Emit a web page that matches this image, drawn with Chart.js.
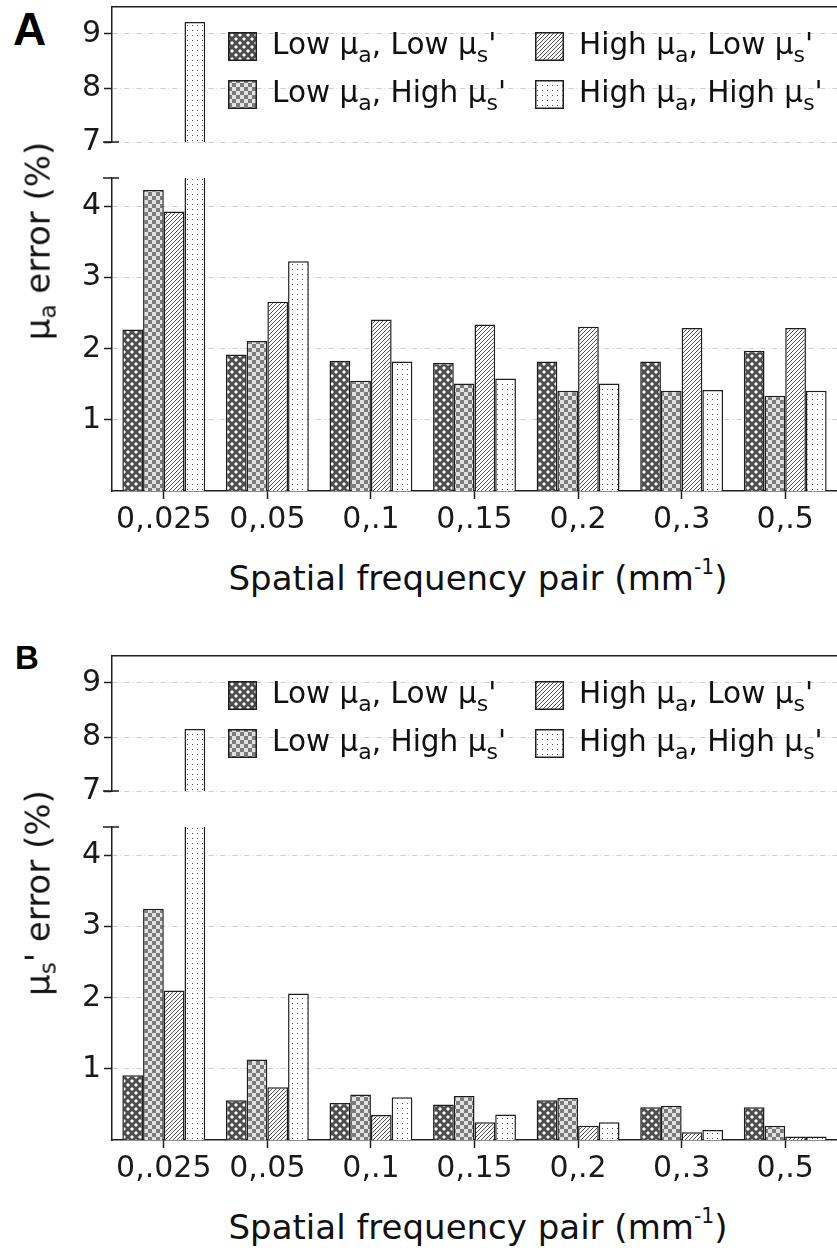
<!DOCTYPE html>
<html>
<head>
<meta charset="utf-8">
<script src="https://cdn.jsdelivr.net/npm/chart.js@4.4.1/dist/chart.umd.min.js"></script>
<style>
  body { margin: 0; background: #fff; }
  #page { position: relative; width: 837px; height: 1250px; overflow: hidden;
          font-family: "DejaVu Sans", sans-serif; color: #111; }
  .box { position: absolute; left: 0; width: 837px; }
  .panel-label { position: absolute; font-family: "Liberation Sans", Arial, sans-serif;
                 font-weight: bold; line-height: 1; color: #000; }
  .ytitle { position: absolute; white-space: nowrap; font-size: 34px; line-height: 1.2;
            transform: translate(-50%, -50%) rotate(-90deg); }
  .xtitle { position: absolute; white-space: nowrap; font-size: 34px; line-height: 1.2;
            transform: translate(-50%, -50%); }
  sub { font-size: 0.68em; vertical-align: -0.28em; line-height: 0; }
  sup { font-size: 0.6em; vertical-align: 0.75em; line-height: 0; }
</style>
</head>
<body>
<div id="page">
  <div class="panel-label" style="left:13px;top:6px;font-size:46px">A</div>
  <div class="box" style="top:3px;height:161px"><canvas id="a-upper"></canvas></div>
  <div class="box" style="top:172px;height:369px"><canvas id="a-lower"></canvas></div>
  <div class="ytitle" style="left:38px;top:241px">μ<sub>a</sub> error (%)</div>
  <div class="xtitle" style="left:478px;top:578px">Spatial frequency pair (mm<sup>-1</sup>)</div>

  <div class="panel-label" style="left:15px;top:641px;font-size:33px">B</div>
  <div class="box" style="top:652px;height:161px"><canvas id="b-upper"></canvas></div>
  <div class="box" style="top:821px;height:369px"><canvas id="b-lower"></canvas></div>
  <div class="ytitle" style="left:38px;top:893px">μ<sub>s</sub>' error (%)</div>
  <div class="xtitle" style="left:478px;top:1227px">Spatial frequency pair (mm<sup>-1</sup>)</div>
</div>

<script>
// ──────────────────────────────────────────────────────────────
// Data
// ──────────────────────────────────────────────────────────────
const CATEGORIES = ["0,.025", "0,.05", "0,.1", "0,.15", "0,.2", "0,.3", "0,.5"];
// "_x" marks a subscript character
const SERIES_LABELS = ["Low μ_a, Low μ_s'", "Low μ_a, High μ_s'", "High μ_a, Low μ_s'", "High μ_a, High μ_s'"];

// panel A: μa error (%)
const A_LOW_LOW   = [2.27, 1.92, 1.83, 1.80, 1.82, 1.82, 1.97];
const A_LOW_HIGH  = [4.23, 2.11, 1.55, 1.51, 1.41, 1.41, 1.34];
const A_HIGH_LOW  = [3.93, 2.66, 2.41, 2.34, 2.31, 2.29, 2.29];
const A_HIGH_HIGH = [9.22, 3.23, 1.82, 1.58, 1.51, 1.42, 1.41];

// panel B: μs' error (%)
const B_LOW_LOW   = [0.91, 0.56, 0.52, 0.50, 0.56, 0.46, 0.46];
const B_LOW_HIGH  = [3.25, 1.13, 0.64, 0.62, 0.59, 0.48, 0.20];
const B_HIGH_LOW  = [2.10, 0.74, 0.35, 0.25, 0.20, 0.11, 0.05];
const B_HIGH_HIGH = [8.15, 2.06, 0.60, 0.36, 0.25, 0.14, 0.05];

// broken y axis: two ranges
const UPPER_MIN = 7, UPPER_MAX = 9.5;
const LOWER_MIN = 0, LOWER_MAX = 4.4;
const UPPER_TICKS = [7, 8, 9];
const LOWER_TICKS = [1, 2, 3, 4];

// ──────────────────────────────────────────────────────────────
// Layout / style
// ──────────────────────────────────────────────────────────────
const AXIS_LEFT = 112;
const INK = "#1e1e1e";
const LEGEND_COL_X = [228, 535];
const LEGEND_ROW_DY = [39.5, 87];
const LEGEND_BOX = 29;

Chart.defaults.font.family = '"DejaVu Sans", sans-serif';
Chart.defaults.font.size = 30;
Chart.defaults.color = "#1a1a1a";
Chart.defaults.animation = false;

// ──────────────────────────────────────────────────────────────
// Fill patterns
// ──────────────────────────────────────────────────────────────
function makePattern(kind) {
  const c = document.createElement("canvas");
  const g = c.getContext("2d");
  if (kind === "diamond") {
    c.width = c.height = 8;
    g.fillStyle = "#4e4e4e";
    g.fillRect(0, 0, 8, 8);
    g.fillStyle = "#fff";
    const dia = (x, y, r) => {
      g.beginPath();
      g.moveTo(x, y - r); g.lineTo(x + r, y); g.lineTo(x, y + r); g.lineTo(x - r, y);
      g.closePath();
      g.fill();
    };
    dia(4, 4, 2);
    [[0, 0], [8, 0], [0, 8], [8, 8]].forEach(([x, y]) => dia(x, y, 2));
  } else if (kind === "checker") {
    c.width = c.height = 8;
    g.fillStyle = "#e2e2e2";
    g.fillRect(0, 0, 8, 8);
    g.fillStyle = "#7c7c7c";
    g.fillRect(0, 0, 4, 4);
    g.fillRect(4, 4, 4, 4);
  } else if (kind === "hatch") {
    c.width = c.height = 4;
    g.fillStyle = "#fff";
    g.fillRect(0, 0, 4, 4);
    g.strokeStyle = "#505050";
    g.lineWidth = 1;
    g.beginPath();
    g.moveTo(-1, 5); g.lineTo(5, -1);
    g.moveTo(-1, 1); g.lineTo(1, -1);
    g.moveTo(3, 5); g.lineTo(5, 3);
    g.stroke();
  } else {
    c.width = 5; c.height = 5;
    g.fillStyle = "#fff";
    g.fillRect(0, 0, 5, 5);
    g.fillStyle = "#555";
    g.fillRect(2, 2, 1, 1);
  }
  return g.createPattern(c, "repeat");
}

const PATTERNS = ["diamond", "checker", "hatch", "dots"].map(makePattern);

// ──────────────────────────────────────────────────────────────
// Plugins: legend with subscripts, axis break caps
// ──────────────────────────────────────────────────────────────
function drawRich(ctx, text, x, y, size) {
  const parts = text.split(/_(.)/);
  parts.forEach((p, i) => {
    if (!p) return;
    const sub = i % 2 === 1;
    ctx.font = `${sub ? Math.round(size * 0.74) : size}px "DejaVu Sans", sans-serif`;
    ctx.fillText(p, x, sub ? y + size * 0.28 : y);
    x += ctx.measureText(p).width;
  });
}

const patternLegend = {
  id: "patternLegend",
  afterDraw(chart, args, opts) {
    if (!opts.show) return;
    const { ctx, chartArea } = chart;
    ctx.save();
    chart.data.datasets.forEach((ds, i) => {
      const bx = LEGEND_COL_X[Math.floor(i / 2)];
      const cy = chartArea.top + LEGEND_ROW_DY[i % 2];
      const top = Math.round(cy - LEGEND_BOX / 2);
      ctx.fillStyle = ds.backgroundColor;
      ctx.fillRect(bx, top, LEGEND_BOX, LEGEND_BOX);
      ctx.strokeStyle = INK;
      ctx.lineWidth = 1.5;
      ctx.strokeRect(bx + 0.75, top + 0.75, LEGEND_BOX - 1.5, LEGEND_BOX - 1.5);
      ctx.fillStyle = "#111";
      ctx.textBaseline = "alphabetic";
      drawRich(ctx, ds.label, bx + 44, cy + 7.5, 29.5);
    });
    ctx.restore();
  },
};

const breakCap = {
  id: "breakCap",
  afterDraw(chart, args, opts) {
    if (!opts.edge) return;
    const { ctx, chartArea } = chart;
    const y = opts.edge === "top" ? chartArea.top : chartArea.bottom;
    ctx.save();
    ctx.strokeStyle = INK;
    ctx.lineWidth = 1.5;
    ctx.beginPath();
    ctx.moveTo(chartArea.left - 9, y);
    ctx.lineTo(chartArea.left + 7, y);
    ctx.stroke();
    ctx.restore();
  },
};

Chart.register(patternLegend, breakCap);

// ──────────────────────────────────────────────────────────────
// Config builders
// ──────────────────────────────────────────────────────────────
function buildDatasets(series, keep) {
  return series.map((vals, i) => ({
    label: SERIES_LABELS[i],
    data: vals.map(v => (keep(v) ? v : null)),
    backgroundColor: PATTERNS[i],
    borderColor: INK,
    borderWidth: 1.5,
    borderSkipped: "start",
    categoryPercentage: 0.8,
    barPercentage: 1,
    clip: 0,
  }));
}

function yAxis(min, max, ticks) {
  return {
    min,
    max,
    afterBuildTicks: s => { s.ticks = ticks.map(v => ({ value: v })); },
    afterFit: s => { s.width = AXIS_LEFT; s.paddingTop = 0; s.paddingBottom = 0; },
    grid: { color: "#cccccc", lineWidth: 1, tickLength: 8, tickColor: INK, tickWidth: 1.5 },
    border: { display: true, color: INK, width: 1.5, dash: [5, 3, 1, 3] },
    ticks: { color: "#1a1a1a", padding: 3 },
  };
}

function upperConfig(series) {
  return {
    type: "bar",
    data: { labels: CATEGORIES, datasets: buildDatasets(series, v => v > UPPER_MIN) },
    options: {
      responsive: true,
      maintainAspectRatio: false,
      events: [],
      layout: { padding: { top: 4, bottom: 22, left: 0, right: 0 } },
      plugins: {
        legend: { display: false },
        tooltip: { enabled: false },
        patternLegend: { show: true },
        breakCap: { edge: "bottom" },
      },
      scales: {
        x: {
          position: "top",
          offset: true,
          grid: { display: false },
          ticks: { display: false },
          border: { display: true, color: INK, width: 1.5 },
          afterFit: s => { s.height = 0; s.paddingLeft = 0; s.paddingRight = 0; },
        },
        y: yAxis(UPPER_MIN, UPPER_MAX, UPPER_TICKS),
      },
    },
  };
}

function lowerConfig(series) {
  return {
    type: "bar",
    data: { labels: CATEGORIES, datasets: buildDatasets(series, () => true) },
    options: {
      responsive: true,
      maintainAspectRatio: false,
      events: [],
      layout: { padding: { top: 6, bottom: 0, left: 0, right: 0 } },
      plugins: {
        legend: { display: false },
        tooltip: { enabled: false },
        breakCap: { edge: "top" },
      },
      scales: {
        x: {
          offset: true,
          grid: {
            display: true, drawOnChartArea: false, offset: false,
            tickLength: 8, tickColor: INK, tickWidth: 1.5, color: INK,
          },
          border: { display: true, color: INK, width: 1.5 },
          ticks: { color: "#1a1a1a", padding: 3, autoSkip: false, maxRotation: 0 },
          afterFit: s => { s.height = 50; s.paddingLeft = 0; s.paddingRight = 0; },
        },
        y: yAxis(LOWER_MIN, LOWER_MAX, LOWER_TICKS),
      },
    },
  };
}

// ──────────────────────────────────────────────────────────────
// Init
// ──────────────────────────────────────────────────────────────
function renderPanel(prefix, series) {
  new Chart(document.getElementById(prefix + "-upper"), upperConfig(series));
  new Chart(document.getElementById(prefix + "-lower"), lowerConfig(series));
}

renderPanel("a", [A_LOW_LOW, A_LOW_HIGH, A_HIGH_LOW, A_HIGH_HIGH]);
renderPanel("b", [B_LOW_LOW, B_LOW_HIGH, B_HIGH_LOW, B_HIGH_HIGH]);
</script>
</body>
</html>
